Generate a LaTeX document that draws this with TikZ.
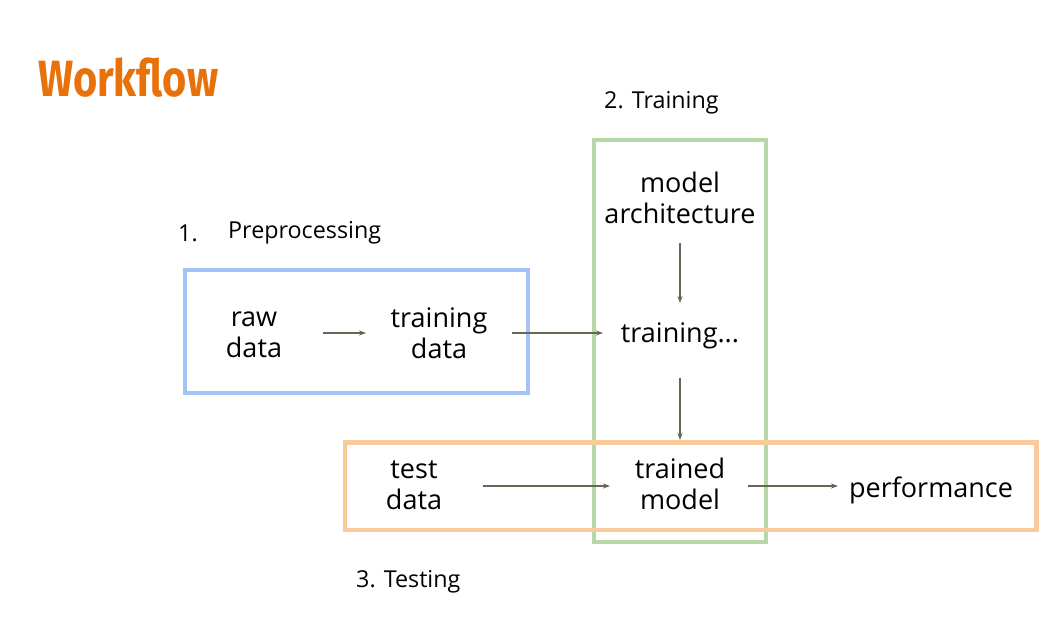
\documentclass[tikz,border=0pt]{standalone}
\usepackage{fontspec}
\usepackage{graphicx}
\setmainfont{Open Sans}
\newfontfamily\titlefont{Fira Sans}
\usetikzlibrary{calc,arrows.meta}
\definecolor{titleorange}{HTML}{E8710A}
\definecolor{boxblue}{HTML}{A4C2F4}
\definecolor{boxgreen}{HTML}{B6D7A8}
\definecolor{boxorange}{HTML}{F9CB9C}
\definecolor{arrowgrey}{HTML}{666655}
\begin{document}
\begin{tikzpicture}[x=1pt,y=-1pt,
  frame/.style={line width=4.5pt},
  item/.style={inner sep=0pt,align=center,font=\fontsize{27}{30.5}\selectfont},
  label/.style={inner sep=0pt,anchor=west,font=\fontsize{23.3}{27}\selectfont},
  arr/.style={draw=arrowgrey,line width=1.2pt,-{Stealth[length=7pt,width=5pt]}}]
\useasboundingbox[fill=white] (0,0) rectangle (1052,617);
% title
\node[inner sep=0pt,anchor=west,text=titleorange] (title) at (38,78)
  {\resizebox{180pt}{\height}{\titlefont\bfseries\fontsize{51}{56}\selectfont Workflow}};
% frames
\draw[frame,boxblue] (185,270) rectangle (528,393);
\draw[frame,boxgreen] (594,140) rectangle (766,542);
\draw[frame,boxorange] (345,442.5) rectangle (1036.5,530);
% labels
\node[label] (l1) at (178,233) {1.};
\node[label] (l1b) at (228,233) {Preprocessing};
\node[label] (l2) at (604,103) {2. Training};
\node[label] (l3) at (356,582) {3. Testing};
% items
\node[item] (arch) at (680,198) {model\\architecture};
\node[item] (raw) at (254,335) {raw\\data};
\node[item] (td) at (439,333) {training\\data};
\node[item] (trn) at (680,336) {training...};
\node[item] (test) at (414,485) {test\\data};
\node[item] (trained) at (680,484) {trained\\model};
\node[item] (perf) at (931,490) {performance};
% arrows
\draw[arr] ($(raw.center)+(69,-2)$) -- ($(td.center)+(-73,0)$);
\draw[arr] ($(td.center)+(73,0)$) -- ($(trn.center)+(-77,-3)$);
\draw[arr] ($(arch.center)+(0,45)$) -- ($(trn.center)+(0,-33)$);
\draw[arr] ($(trn.center)+(0,42)$) -- ($(trained.center)+(0,-44)$);
\draw[arr] ($(test.center)+(69,1)$) -- ($(trained.center)+(-70,2)$);
\draw[arr] ($(trained.center)+(68,2)$) -- ($(perf.center)+(-93,-4)$);
\end{tikzpicture}
\end{document}
